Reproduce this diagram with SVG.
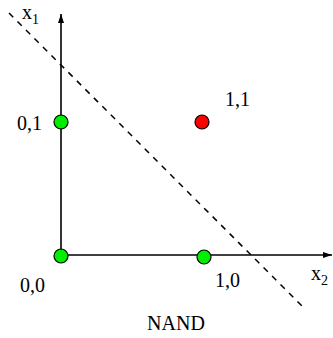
<svg xmlns="http://www.w3.org/2000/svg" width="333" height="338" viewBox="0 0 333 338">
<style>
text{font-family:"Liberation Serif","Times New Roman",serif;font-size:20px;fill:#000}
.sub{font-size:14px}
.axis{stroke:#000;stroke-width:1.6;fill:none}
.pt{stroke:#000;stroke-width:1.2}
</style>
<defs>
<marker id="ah" markerWidth="10" markerHeight="8" refX="9" refY="4" orient="auto" markerUnits="userSpaceOnUse">
<path d="M0,1 L9,4 L0,7 Z" fill="#000"/>
</marker>
</defs>
<rect width="333" height="338" fill="#fff"/>
<g id="connectors">
<line class="axis" x1="61" y1="256" x2="61" y2="14" marker-end="url(#ah)"/>
<line class="axis" x1="61" y1="255" x2="332" y2="255" marker-end="url(#ah)"/>
<line x1="9" y1="13" x2="303" y2="307" stroke="#000" stroke-width="1.5" stroke-dasharray="6,6"/>
</g>
<g id="x1label"><text x="22" y="19">x<tspan class="sub" dy="5">1</tspan></text></g>
<g id="x2label"><text x="311" y="280">x<tspan class="sub" dy="5">2</tspan></text></g>
<g id="p01"><circle class="pt" cx="61" cy="122" r="7" fill="#00ee00"/><text x="17" y="130">0,1</text></g>
<g id="p11"><circle class="pt" cx="202" cy="122" r="7" fill="#ff0000"/><text x="225" y="106">1,1</text></g>
<g id="p00"><circle class="pt" cx="61" cy="256" r="7" fill="#00ee00"/><text x="20" y="292">0,0</text></g>
<g id="p10"><circle class="pt" cx="204" cy="257" r="7" fill="#00ee00"/><text x="215" y="287">1,0</text></g>
<g id="title"><text x="176" y="330" text-anchor="middle">NAND</text></g>
</svg>
